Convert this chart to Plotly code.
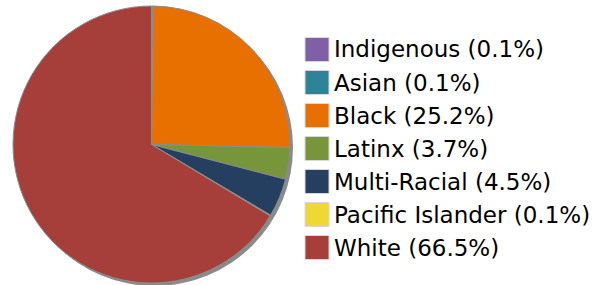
import plotly.graph_objects as go

labels = ["Indigenous", "Asian", "Black", "Latinx", "Multi-Racial", "Pacific Islander", "White"]
values = [0.1, 0.1, 25.2, 3.7, 4.5, 0.1, 66.5]
colors = ["#7f5fa5", "#2e8399", "#e87000", "#77963c", "#243f60", "#f0d832", "#a63f3a"]

W, H = 613, 285
cx, cy, r = 151.5, 144.5, 138.5
off = 3

def dom(cx, cy, r):
    return dict(x=[(cx - r) / W, (cx + r) / W], y=[(H - cy - r) / H, (H - cy + r) / H])

fig = go.Figure()
fig.add_trace(go.Pie(values=values, labels=labels, marker=dict(colors=colors, line=dict(color="#8c8c8c", width=1)),
                     textinfo="none", sort=False, direction="clockwise", rotation=0, showlegend=False,
                     domain=dom(cx, cy, r)))

shapes, annots = [], []
# drop shadow behind the pie
shapes.append(dict(type="circle", xref="paper", yref="paper", layer="below",
                   x0=(cx + off - r) / W, x1=(cx + off + r) / W,
                   y0=(H - cy - off - r) / H, y1=(H - cy - off + r) / H,
                   fillcolor="#8a8a8a", line=dict(width=0)))

# custom legend
lx, ly0, step, sq = 305, 49.5, 33, 24
for i, (lab, v, c) in enumerate(zip(labels, values, colors)):
    yc = ly0 + i * step
    shapes.append(dict(type="rect", xref="paper", yref="paper",
                       x0=lx / W, x1=(lx + sq) / W,
                       y0=(H - yc - sq / 2) / H, y1=(H - yc + sq / 2) / H,
                       fillcolor=c, line=dict(color="#d8d8d8", width=1)))
    annots.append(dict(xref="paper", yref="paper", x=(lx + sq + 3) / W, y=(H - yc) / H,
                       text=f"{lab} ({v}%)", showarrow=False, xanchor="left", yanchor="middle",
                       font=dict(family="DejaVu Sans", size=23, color="#000000")))

fig.update_layout(width=W, height=H, margin=dict(l=0, r=0, t=0, b=0),
                  paper_bgcolor="white", plot_bgcolor="white",
                  shapes=shapes, annotations=annots, showlegend=False)
fig.write_html("out.html", config={"displayModeBar": False},
               post_script="document.body.style.margin='0';")
